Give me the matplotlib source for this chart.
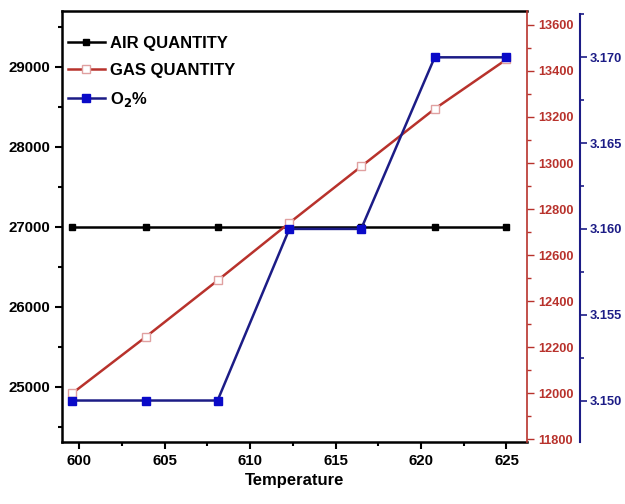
import matplotlib
matplotlib.use("Agg")
import matplotlib.pyplot as plt
from matplotlib.ticker import MultipleLocator, FormatStrFormatter
from matplotlib.lines import Line2D

plt.rcParams['font.family'] = ['Liberation Sans', 'DejaVu Sans']
plt.rcParams['font.weight'] = 'bold'
plt.rcParams['mathtext.default'] = 'bf'

# data
temperature = [599.6, 603.9, 608.1, 612.3, 616.5, 620.8, 625.0]
air_quantity = [27000, 27000, 27000, 27000, 27000, 27000, 27000]
gas_quantity = [12000, 12245, 12490, 12740, 12985, 13235, 13450]
o2_percent = [3.150, 3.150, 3.150, 3.160, 3.160, 3.170, 3.170]

RED = '#b8322c'
NAVY = '#1c1c86'
BLUE = '#0a0ac8'

fig = plt.figure(figsize=(6.25, 5.04), dpi=100)
ax = fig.add_axes([0.0992, 0.1236, 0.744, 0.8546])
ax2 = ax.twinx()
ax3 = ax.twinx()

ax.plot(temperature, air_quantity, color='black', lw=1.8, marker='s', ms=5,
        mfc='black', mec='black', zorder=3)
ax2.plot(temperature, gas_quantity, color=RED, lw=1.8, marker='s', ms=5.5,
         mfc='white', mec='#e0a0a0', zorder=3)
ax3.plot(temperature, o2_percent, color=NAVY, lw=1.8, marker='s', ms=6,
         mfc=BLUE, mec=BLUE, zorder=3)

ax.set_xlim(599.0, 626.2)
ax.set_ylim(24310, 29700)
ax2.set_ylim(11790, 13660)
ax3.set_ylim(3.1476, 3.1727)

# main axis
ax.xaxis.set_major_locator(MultipleLocator(5))
ax.xaxis.set_minor_locator(MultipleLocator(2.5))
ax.yaxis.set_major_locator(MultipleLocator(1000))
ax.yaxis.set_minor_locator(MultipleLocator(500))
ax.tick_params(axis='both', which='major', direction='out', length=5, width=1.5,
               labelsize=10.8)
ax.tick_params(axis='both', which='minor', direction='out', length=3, width=1.5)
ax.tick_params(axis='y', right=False)
for lbl in ax.get_xticklabels() + ax.get_yticklabels():
    lbl.set_fontweight('bold')
ax.set_xlabel('Temperature', fontsize=12, fontweight='bold', labelpad=4)
for s in ['left', 'bottom', 'top']:
    ax.spines[s].set_linewidth(1.8)
ax.spines['right'].set_visible(False)

# gas axis (red)
for s in ['left', 'top', 'bottom']:
    ax2.spines[s].set_visible(False)
ax2.spines['right'].set_color(RED)
ax2.spines['right'].set_linewidth(1.2)
ax2.yaxis.set_major_locator(MultipleLocator(200))
ax2.yaxis.set_minor_locator(MultipleLocator(100))
ax2.tick_params(axis='y', which='major', colors=RED, length=5, width=1,
                labelsize=9.2, pad=3)
ax2.tick_params(axis='y', which='minor', colors=RED, length=3, width=1)
for lbl in ax2.get_yticklabels():
    lbl.set_fontweight('bold')

# o2 axis (navy)
for s in ['left', 'top', 'bottom']:
    ax3.spines[s].set_visible(False)
ax3.spines['right'].set_position(('axes', 1.114))
ax3.spines['right'].set_color(NAVY)
ax3.spines['right'].set_linewidth(1.5)
ax3.spines['right'].set_bounds(3.1476, 3.1725)
ax3.yaxis.set_major_locator(MultipleLocator(0.005))
ax3.yaxis.set_minor_locator(MultipleLocator(0.0025))
ax3.yaxis.set_major_formatter(FormatStrFormatter('%.3f'))
ax3.tick_params(axis='y', which='major', colors=NAVY, length=5, width=1.2,
                labelsize=9.3, pad=2)
ax3.tick_params(axis='y', which='minor', colors=NAVY, length=3, width=1.2)
for lbl in ax3.get_yticklabels():
    lbl.set_fontweight('bold')

handles = [
    Line2D([], [], color='black', lw=1.8, marker='s', ms=5, mfc='black', mec='black'),
    Line2D([], [], color=RED, lw=1.8, marker='s', ms=5.5, mfc='white', mec='#e0a0a0'),
    Line2D([], [], color=NAVY, lw=1.8, marker='s', ms=6, mfc=BLUE, mec=BLUE),
]
leg = ax3.legend(handles, ['AIR QUANTITY', 'GAS QUANTITY', 'O$_2$%'],
                 loc='upper left', bbox_to_anchor=(0.013, 0.942), frameon=False,
                 borderpad=0, borderaxespad=0,
                 handlelength=2.2, handletextpad=0.3, labelspacing=0.72,
                 prop={'size': 12, 'weight': 'bold'})

fig.savefig('out.png', dpi=100)
